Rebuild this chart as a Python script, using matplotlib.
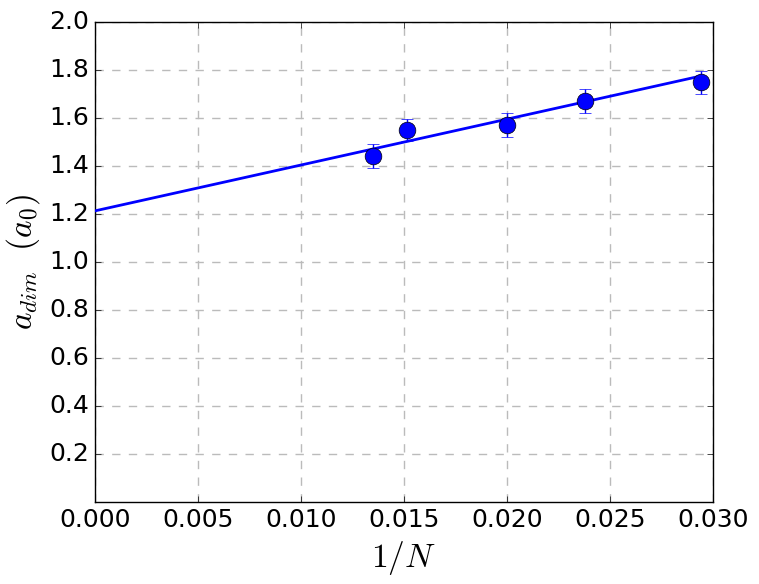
import matplotlib
matplotlib.use("Agg")
import matplotlib.pyplot as plt
import numpy as np

plt.style.use('classic')

inv_n = [1/74, 1/66, 1/50, 1/42, 1/34]
a_dim = [1.44, 1.55, 1.57, 1.672, 1.748]
a_err = [0.05, 0.047, 0.05, 0.05, 0.048]
fit_intercept = 1.213
fit_slope = 19.1
fit_x = [0.0, 1/34]
yticks = [0.2, 0.4, 0.6, 0.8, 1.0, 1.2, 1.4, 1.6, 1.8, 2.0]
xticks = [0.0, 0.005, 0.01, 0.015, 0.02, 0.025, 0.03]

fig = plt.figure(figsize=(7.59, 5.84), dpi=100, facecolor='white')
ax = fig.add_axes([0.125, 0.1404, 0.814, 0.8219])

fx = np.array(fit_x)
ax.plot(fx, fit_intercept + fit_slope * fx, color='blue', lw=2, zorder=3)
ax.errorbar(inv_n, a_dim, yerr=a_err, fmt='o', color='blue', ecolor='blue',
            markersize=12, capsize=4, elinewidth=1, markeredgecolor='black',
            markeredgewidth=0.5, zorder=4)

ax.set_xlim(0, 0.03)
ax.set_ylim(0, 2.0)
ax.set_xticks(xticks)
ax.set_yticks(yticks)
ax.set_xticklabels([f"{t:.3f}" for t in xticks])
ax.set_yticklabels([f"{t:.1f}" for t in yticks])
ax.tick_params(labelsize=18)
ax.grid(True, color='#bbbbbb', linestyle='--', linewidth=1)
ax.set_axisbelow(True)
ax.set_xlabel(r'$1/N$', fontsize=24)
ax.set_ylabel(r'$a_{dim}\ \ (a_0)$', fontsize=24)

fig.savefig('out.png', dpi=100, facecolor='white')
